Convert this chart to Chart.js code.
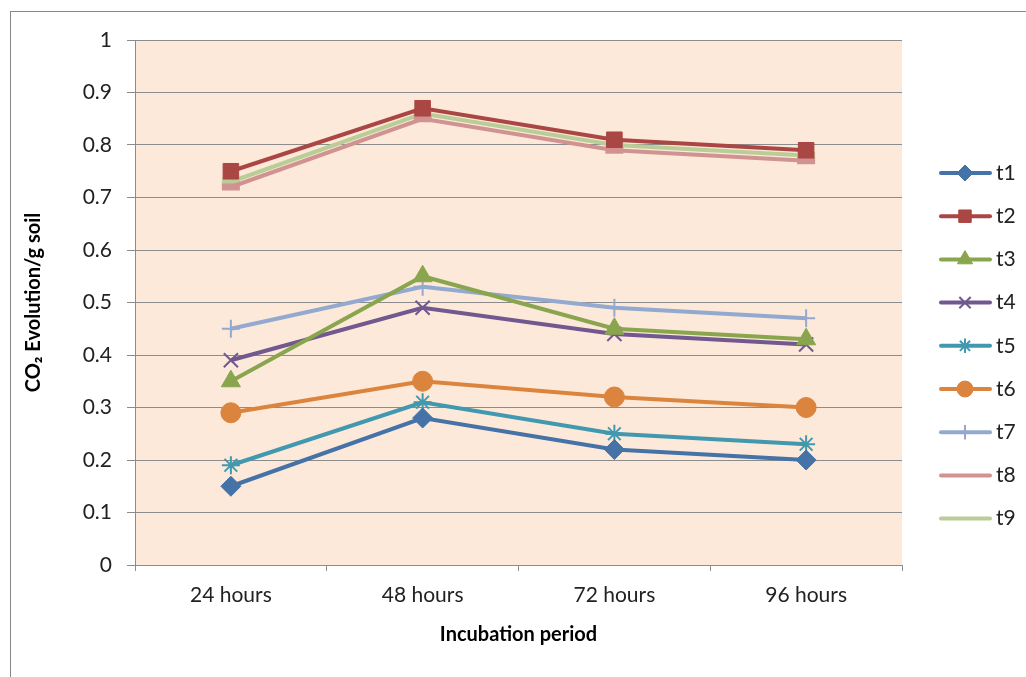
<!DOCTYPE html>
<html>
<head>
<meta charset="utf-8">
<script src="https://cdn.jsdelivr.net/npm/chart.js@4.4.1/dist/chart.umd.min.js"></script>
<style>
  html, body { margin: 0; padding: 0; background: #ffffff; }
  #wrap { position: relative; width: 1026px; height: 677px; }
</style>
</head>
<body>
<div id="wrap"><canvas id="chartCanvas"></canvas></div>
<script>
// categories and series
const periods = ["24 hours", "48 hours", "72 hours", "96 hours"];
const t1 = [0.15, 0.28, 0.22, 0.20];
const t2 = [0.75, 0.87, 0.81, 0.79];
const t3 = [0.35, 0.55, 0.45, 0.43];
const t4 = [0.39, 0.49, 0.44, 0.42];
const t5 = [0.19, 0.31, 0.25, 0.23];
const t6 = [0.29, 0.35, 0.32, 0.30];
const t7 = [0.45, 0.53, 0.49, 0.47];
const t8 = [0.72, 0.85, 0.79, 0.77];
const t9 = [0.73, 0.86, 0.80, 0.78];

const FONT = "Lato";

function makeSet(label, data, color, style, radius, bw) {
    return {
        label: label,
        data: data,
        borderColor: color,
        backgroundColor: color,
        borderWidth: 4,
        pointStyle: style,
        pointRadius: radius,
        pointHoverRadius: radius,
        pointBorderWidth: bw,
        pointBorderColor: color,
        pointBackgroundColor: color,
        tension: 0
    };
}

const datasets = [
    makeSet("t1", t1, "#4572A7", "rectRot", 10, 1),
    makeSet("t2", t2, "#AA4643", "rect", 11, 1),
    makeSet("t3", t3, "#89A54E", "triangle", 11, 1),
    makeSet("t4", t4, "#71588F", "crossRot", 10, 2),
    makeSet("t5", t5, "#4198AF", "star", 9, 2),
    makeSet("t6", t6, "#DB843D", "circle", 10, 1),
    makeSet("t7", t7, "#93A9CF", "cross", 9, 2),
    makeSet("t8", t8, "#D19392", "line", 9, 7),
    makeSet("t9", t9, "#B9CD96", "line", 9, 7)
];

// peach plot background + outer frame
const backdrop = {
    id: "backdrop",
    beforeDraw(chart) {
        const ctx = chart.ctx;
        const a = chart.chartArea;
        ctx.save();
        ctx.fillStyle = "#FDE9D9";
        ctx.fillRect(a.left, a.top, a.right - a.left, a.bottom - a.top);
        ctx.strokeStyle = "#888888";
        ctx.lineWidth = 1;
        ctx.strokeRect(10.5, 11.5, 1100, 800);
        ctx.restore();
    }
};

// legend with line + marker like the office chart
const sideLegend = {
    id: "sideLegend",
    afterDraw(chart) {
        const ctx = chart.ctx;
        ctx.save();
        chart.data.datasets.forEach((ds, i) => {
            const y = 173 + i * 43.2;
            ctx.strokeStyle = ds.borderColor;
            ctx.lineWidth = 4;
            ctx.lineCap = "round";
            ctx.beginPath();
            ctx.moveTo(941, y);
            ctx.lineTo(990, y);
            ctx.stroke();
            ctx.lineCap = "butt";
            if (ds.pointStyle !== "line") {
                ctx.fillStyle = ds.borderColor;
                ctx.strokeStyle = ds.borderColor;
                ctx.lineWidth = ds.pointBorderWidth;
                Chart.helpers.drawPoint(ctx, {
                    pointStyle: ds.pointStyle,
                    rotation: 0,
                    radius: ds.pointRadius * 0.8,
                    borderWidth: ds.pointBorderWidth
                }, 965, y);
            }
            ctx.fillStyle = "#222222";
            ctx.font = "21px " + FONT;
            ctx.textAlign = "left";
            ctx.textBaseline = "middle";
            ctx.fillText(ds.label, 996, y);
        });
        ctx.restore();
    }
};

new Chart(document.getElementById("chartCanvas").getContext("2d"), {
    type: "line",
    data: {
        labels: periods,
        datasets: datasets
    },
    options: {
        responsive: true,
        maintainAspectRatio: false,
        animation: false,
        layout: {
            padding: { left: 0, top: 40, right: 124, bottom: 0 }
        },
        plugins: {
            legend: { display: false },
            tooltip: { enabled: false }
        },
        scales: {
            x: {
                offset: true,
                grid: {
                    offset: true,
                    drawOnChartArea: false,
                    drawTicks: true,
                    tickLength: 6,
                    color: "#8C8C8C"
                },
                border: { color: "#8C8C8C", width: 1 },
                ticks: {
                    color: "#222222",
                    font: { family: FONT, size: 21 },
                    padding: 12,
                    maxRotation: 0
                },
                title: {
                    display: true,
                    text: "Incubation period",
                    color: "#000000",
                    font: { family: FONT, size: 20, weight: "bold" },
                    padding: { top: 0, bottom: 30 }
                },
                afterFit(scale) { scale.height = 112; }
            },
            y: {
                min: 0,
                max: 1,
                ticks: {
                    stepSize: 0.1,
                    color: "#222222",
                    font: { family: FONT, size: 21 },
                    padding: 15,
                    callback: (v) => String(Math.round(v * 10) / 10)
                },
                grid: {
                    color: "#8C8C8C",
                    lineWidth: 1,
                    drawTicks: true,
                    tickLength: 8
                },
                border: { color: "#8C8C8C", width: 1 },
                title: {
                    display: true,
                    text: "CO₂ Evolution/g soil",
                    color: "#000000",
                    font: { family: FONT, size: 20, weight: "bold" },
                    padding: { top: 22, bottom: 0 }
                },
                afterFit(scale) { scale.width = 135; }
            }
        }
    },
    plugins: [backdrop, sideLegend]
});
</script>
</body>
</html>
